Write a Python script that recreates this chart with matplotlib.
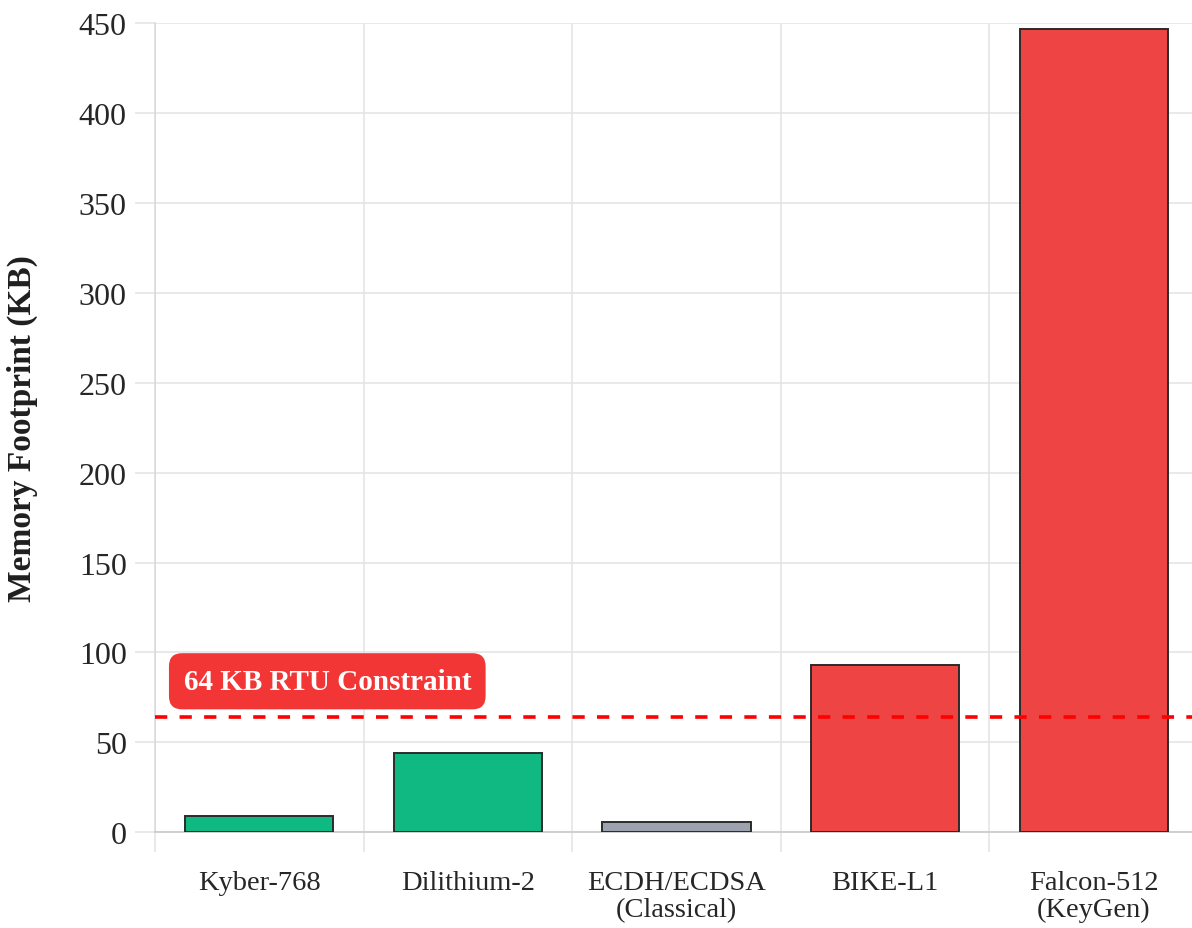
import matplotlib.pyplot as plt
import numpy as np

plt.rcParams['font.family'] = ['Liberation Serif', 'DejaVu Serif']

# memory footprint per scheme (KB)
algorithms = ['Kyber-768', 'Dilithium-2', 'ECDH/ECDSA\n(Classical)', 'BIKE-L1', 'Falcon-512\n(KeyGen)']
memory_kb = [9.3, 44.2, 5.6, 93.3, 447]
bar_colors = ['#10b981', '#10b981', '#9ca3af', '#ef4444', '#ef4444']
rtu_limit = 64

grid_col = '#e3e3e3'
text_col = '#262626'

fig = plt.figure(figsize=(11.92, 9.29), dpi=100)
ax = fig.add_axes([0.130, 0.103, 0.875, 0.871])

x = np.arange(len(algorithms))
ax.bar(x, memory_kb, width=0.71, color=bar_colors, edgecolor='#2b2b2b',
       linewidth=1.4, zorder=3)

# RTU memory budget
ax.axhline(rtu_limit, color='#ff0000', lw=2.6, linestyle=(0, (3.4, 3.4)), zorder=4)
ax.text(-0.363, rtu_limit + 20, f'{rtu_limit} KB RTU Constraint',
        ha='left', va='center', fontsize=21, fontweight='bold', color='white',
        zorder=5,
        bbox=dict(boxstyle='round,pad=0.5,rounding_size=0.45',
                  facecolor='#f23636', edgecolor='none'))

ax.set_xlim(-0.5, len(algorithms) - 0.5)
ax.set_ylim(0, 450)

ax.set_xticks(x)
ax.set_xticklabels(algorithms, fontsize=20.5, color=text_col, linespacing=1.1)
ax.set_xticks(np.arange(-0.5, len(algorithms), 1), minor=True)
ax.set_yticks(np.arange(0, 451, 50))
ax.tick_params(axis='y', labelsize=23, labelcolor=text_col, length=14.4,
               width=1.1, color=grid_col, pad=6)
ax.tick_params(axis='x', which='major', length=0, pad=27)
ax.tick_params(axis='x', which='minor', length=14.4, width=1.1, color=grid_col)

ax.grid(axis='y', which='major', color=grid_col, lw=1.1, zorder=0)
ax.grid(axis='x', which='minor', color=grid_col, lw=1.1, zorder=0)
ax.set_axisbelow(True)

for side in ['top', 'right']:
    ax.spines[side].set_visible(False)
ax.spines['left'].set_color('#d8d8d8')
ax.spines['bottom'].set_color('#cdcdcd')
ax.spines['left'].set_linewidth(1.1)
ax.spines['bottom'].set_linewidth(1.3)

ax.set_ylabel('Memory Footprint (KB)', fontsize=24, fontweight='bold', color='#1f1f1f')
ax.yaxis.set_label_coords(-0.112, 0.5)

fig.savefig('out.png', dpi=100)
